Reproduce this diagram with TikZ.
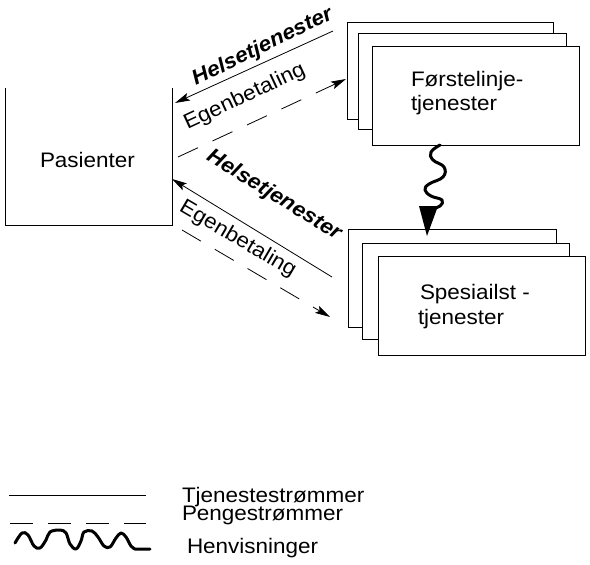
\documentclass[tikz,border=0pt]{standalone}
\usepackage{fontspec}
\setmainfont{Liberation Sans}[FakeStretch=1.07]
\usetikzlibrary{arrows.meta}
\begin{document}
\begin{tikzpicture}[x=1pt,y=-1pt,
 every node/.style={inner sep=0pt,outer sep=0pt},
 card/.style={draw,fill=white,line width=1pt,anchor=north west},
 lbl/.style={font=\fontsize{21}{24}\selectfont,anchor=base west},
 rlbl/.style={font=\fontsize{21}{24}\selectfont,anchor=base},
 blbl/.style={font=\fontsize{21}{24}\selectfont\bfseries\itshape,anchor=base},
 flow/.style={line width=0.8pt,-{Stealth[length=15pt,width=8pt,inset=3pt]}},
 money/.style={flow,dash pattern=on 22pt off 16pt},
 wave/.style={line width=3pt,line cap=round,line join=round},
]
\useasboundingbox (0,0) rectangle (590,565);

% Pasienter
\node[minimum width=167pt,minimum height=137pt,anchor=north west] (pas) at (5,88) {};
\draw[line width=1pt] (pas.north west) -- (pas.south west) -- (pas.south east) -- (pas.north east);
\node[lbl] (pastxt) at (40,167) {Pasienter};

% Førstelinje stack
\node[card,minimum width=206pt,minimum height=97pt] (f1) at (347,22) {};
\node[card,minimum width=208pt,minimum height=96pt] (f2) at (358,33) {};
\node[card,minimum width=207pt,minimum height=99pt] (f3) at (372,46) {};
\node[lbl] (ft1) at (411,86) {Førstelinje-};
\node[lbl] (ft2) at (411,110) {tjenester};

% Spesialist stack
\node[card,minimum width=208pt,minimum height=98pt] (s1) at (348,229) {};
\node[card,minimum width=207pt,minimum height=96pt] (s2) at (362,243) {};
\node[card,minimum width=207pt,minimum height=99pt] (s3) at (378,256) {};
\node[lbl] (st1) at (420,299) {Spesiailst -};
\node[lbl] (st2) at (418,324) {tjenester};

% flows
\coordinate (a1s) at (333,31);  \coordinate (a1e) at (175,103);
\coordinate (a2s) at (178,157); \coordinate (a2e) at (346,79);
\coordinate (a3s) at (332,277); \coordinate (a3e) at (172,179);
\coordinate (a4s) at (182,230); \coordinate (a4e) at (330,317);
\draw[flow] (a1s) -- (a1e);
\draw[money] (a2s) -- (a2e);
\draw[flow] (a3s) -- (a3e);
\draw[money] (a4s) -- (a4e);
\node[blbl,rotate=26] (h1) at (265,52) {Helsetjenester};
\node[rlbl,rotate=25] (e1) at (247,102) {Egenbetaling};
\node[blbl,rotate=-31.5] (h2) at (271,200) {Helsetjenester};
\node[rlbl,rotate=-30.4] (e2) at (235,244) {Egenbetaling};

% referral
\coordinate (wtop) at (f3.south -| 440,0);
\coordinate (wtip) at (427,236);
\draw[wave] plot[smooth,tension=0.7] coordinates {(wtop) (431,152) (433,160) (444,167) (443,177) (429,184) (425,190) (431,196) (442,200) (440,206) (431,209)};
\fill (419,206) -- (438,206) -- (wtip) -- cycle;

% legend
\coordinate (l1a) at (9,495);  \coordinate (l1b) at (146,495);
\coordinate (l2a) at (10,523); \coordinate (l2b) at (146,523);
\draw[line width=1pt] (l1a) -- (l1b);
\draw[line width=1pt,dash pattern=on 23pt off 15pt] (l2a) -- (l2b);
\draw[wave] plot[smooth,tension=0.6] coordinates {(15,543) (22,533) (28,535) (34,546) (40,548) (46,540) (50,532) (60,530) (66,533) (70,544) (76,549) (81,541) (84,532) (92,531) (98,537) (104,546) (110,547) (116,538) (121,533) (126,537) (131,546) (135,549)} -- (150,549);
\node[lbl] (lt1) at (182,502) {Tjenestestrømmer};
\node[lbl] (lt2) at (182,520) {Pengestrømmer};
\node[lbl] (lt3) at (187,553) {Henvisninger};
\end{tikzpicture}
\end{document}
